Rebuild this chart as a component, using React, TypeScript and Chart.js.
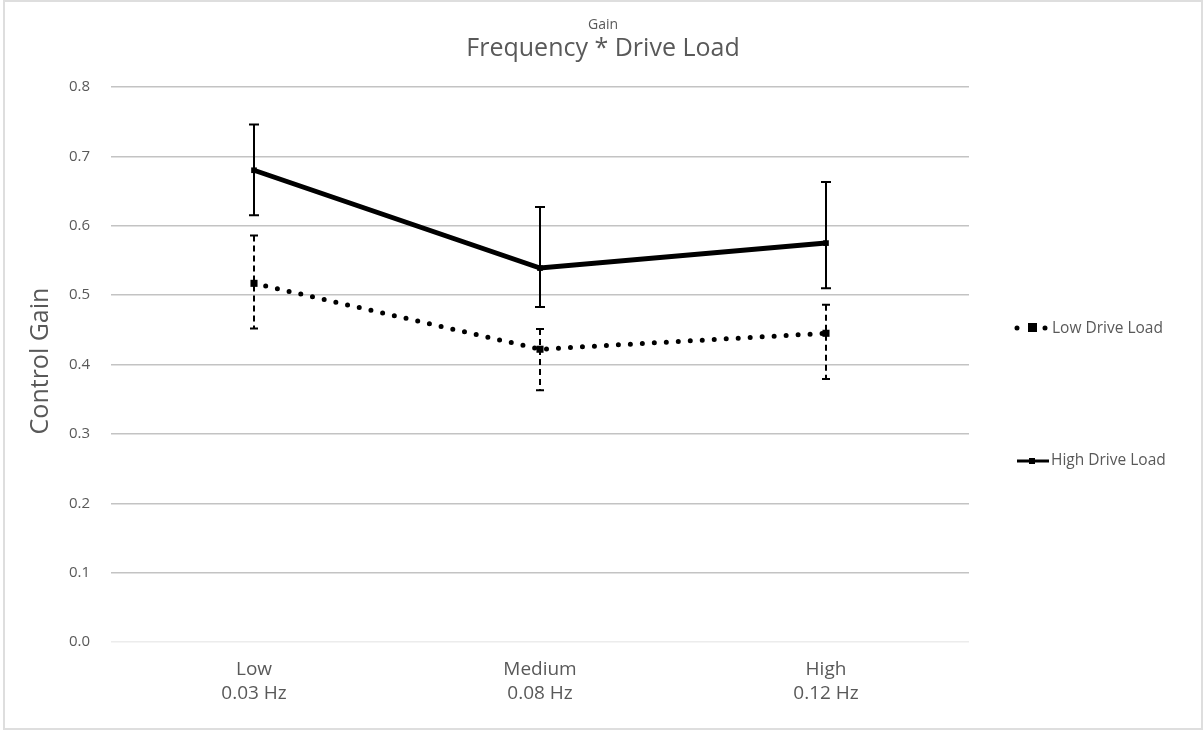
import React, { useEffect, useRef } from "react";
import { Chart, registerables } from "chart.js";

Chart.register(...registerables);

const categories: string[][] = [["Low", "0.03 Hz"], ["Medium", "0.08 Hz"], ["High", "0.12 Hz"]];
const lowLoad = [0.517, 0.422, 0.445];
const lowLoadUpper = [0.586, 0.451, 0.486];
const lowLoadLower = [0.452, 0.363, 0.379];
const highLoad = [0.68, 0.539, 0.575];
const highLoadUpper = [0.746, 0.627, 0.663];
const highLoadLower = [0.615, 0.483, 0.51];
const yTicks = [0, 0.1, 0.2, 0.3, 0.4, 0.5, 0.6, 0.7, 0.8];

const FONT = "'Open Sans', 'Noto Sans', sans-serif";
const TEXT = "#595959";

const errorBars = {
  id: "errorBars",
  beforeDatasetsDraw(chart: any) {
    const ctx = chart.ctx;
    const xs = chart.scales.x;
    const ys = chart.scales.y;
    const sets = [
      { up: lowLoadUpper, lo: lowLoadLower, dash: [6, 4], cap: 4 },
      { up: highLoadUpper, lo: highLoadLower, dash: [], cap: 5 },
    ];
    ctx.save();
    ctx.strokeStyle = "#000";
    ctx.lineWidth = 2;
    sets.forEach((s) => {
      s.up.forEach((u, i) => {
        const x = xs.getPixelForValue(i);
        const y1 = ys.getPixelForValue(u);
        const y2 = ys.getPixelForValue(s.lo[i]);
        ctx.setLineDash(s.dash);
        ctx.beginPath();
        ctx.moveTo(x, y1);
        ctx.lineTo(x, y2);
        ctx.stroke();
        ctx.setLineDash([]);
        ctx.beginPath();
        ctx.moveTo(x - s.cap, y1);
        ctx.lineTo(x + s.cap, y1);
        ctx.moveTo(x - s.cap, y2);
        ctx.lineTo(x + s.cap, y2);
        ctx.stroke();
      });
    });
    ctx.restore();
  },
};

const decorations = {
  id: "decorations",
  afterDraw(chart: any) {
    const ctx = chart.ctx;
    ctx.save();
    // border
    ctx.strokeStyle = "#dedede";
    ctx.lineWidth = 2;
    ctx.strokeRect(4, 1, 1198, 728);
    // titles
    ctx.fillStyle = TEXT;
    ctx.textAlign = "center";
    ctx.textBaseline = "middle";
    ctx.font = `14px ${FONT}`;
    ctx.fillText("Gain", 603, 25);
    ctx.font = `25px ${FONT}`;
    ctx.fillText("Frequency * Drive Load", 603, 49);
    // y title
    ctx.save();
    ctx.translate(41, 361);
    ctx.rotate(-Math.PI / 2);
    ctx.font = `25px ${FONT}`;
    ctx.fillText("Control Gain", 0, 0);
    ctx.restore();
    // legend
    ctx.textAlign = "left";
    ctx.font = `15.5px ${FONT}`;
    ctx.fillText("Low Drive Load", 1052, 329);
    ctx.fillText("High Drive Load", 1051, 461);
    ctx.fillStyle = "#000";
    ctx.beginPath();
    ctx.arc(1017, 328, 2.5, 0, Math.PI * 2);
    ctx.arc(1045, 328, 2.5, 0, Math.PI * 2);
    ctx.fill();
    ctx.fillRect(1028, 323, 9, 9);
    ctx.strokeStyle = "#000";
    ctx.lineWidth = 3;
    ctx.beginPath();
    ctx.moveTo(1017, 461);
    ctx.lineTo(1049, 461);
    ctx.stroke();
    ctx.fillRect(1029, 458, 6, 6);
    ctx.restore();
  },
};

export default function App() {
  const ref = useRef<HTMLCanvasElement>(null);
  useEffect(() => {
    document.body.style.margin = "0";
    const chart = new Chart(ref.current as HTMLCanvasElement, {
      type: "line",
      data: {
        labels: categories as any,
        datasets: [
          {
            label: "Low Drive Load",
            data: lowLoad,
            borderColor: "#000",
            backgroundColor: "#000",
            borderWidth: 5,
            borderDash: [0, 12],
            borderCapStyle: "round",
            pointStyle: "rect",
            pointRadius: 5,
            pointBorderWidth: 0,
            tension: 0,
          },
          {
            label: "High Drive Load",
            data: highLoad,
            borderColor: "#000",
            backgroundColor: "#000",
            borderWidth: 5,
            pointStyle: "rect",
            pointRadius: 4,
            pointBorderWidth: 0,
            tension: 0,
          },
        ],
      },
      options: {
        responsive: false,
        animation: false,
        layout: { padding: { top: 87, right: 235, left: 0, bottom: 0 } },
        plugins: {
          legend: { display: false },
          title: { display: false },
          tooltip: { enabled: false },
        },
        scales: {
          x: {
            offset: true,
            grid: { display: false },
            border: { display: false },
            ticks: {
              color: TEXT,
              font: { family: FONT, size: 19, lineHeight: 24 / 19 },
              padding: 8,
              maxRotation: 0,
            },
            afterFit: (s: any) => {
              s.height = 88;
            },
          },
          y: {
            min: 0,
            max: 0.8,
            afterBuildTicks: (s: any) => {
              s.ticks = yTicks.map((v) => ({ value: v }));
            },
            grid: {
              drawTicks: false,
              color: (c: any) => (c.tick && c.tick.value === 0 ? "#ececec" : "#c3c3c3"),
              lineWidth: 1.5,
            },
            border: { display: false },
            ticks: {
              color: TEXT,
              font: { family: FONT, size: 15 },
              padding: 21,
              callback: (v: any) => Number(v).toFixed(1),
            },
            afterFit: (s: any) => {
              s.width = 111;
            },
          },
        },
      },
      plugins: [errorBars, decorations],
    } as any);
    return () => chart.destroy();
  }, []);
  return (
    <div style={{ position: "absolute", left: 0, top: 0, width: 1204, height: 730, background: "#fff" }}>
      <canvas ref={ref} width={1204} height={730} />
    </div>
  );
}
